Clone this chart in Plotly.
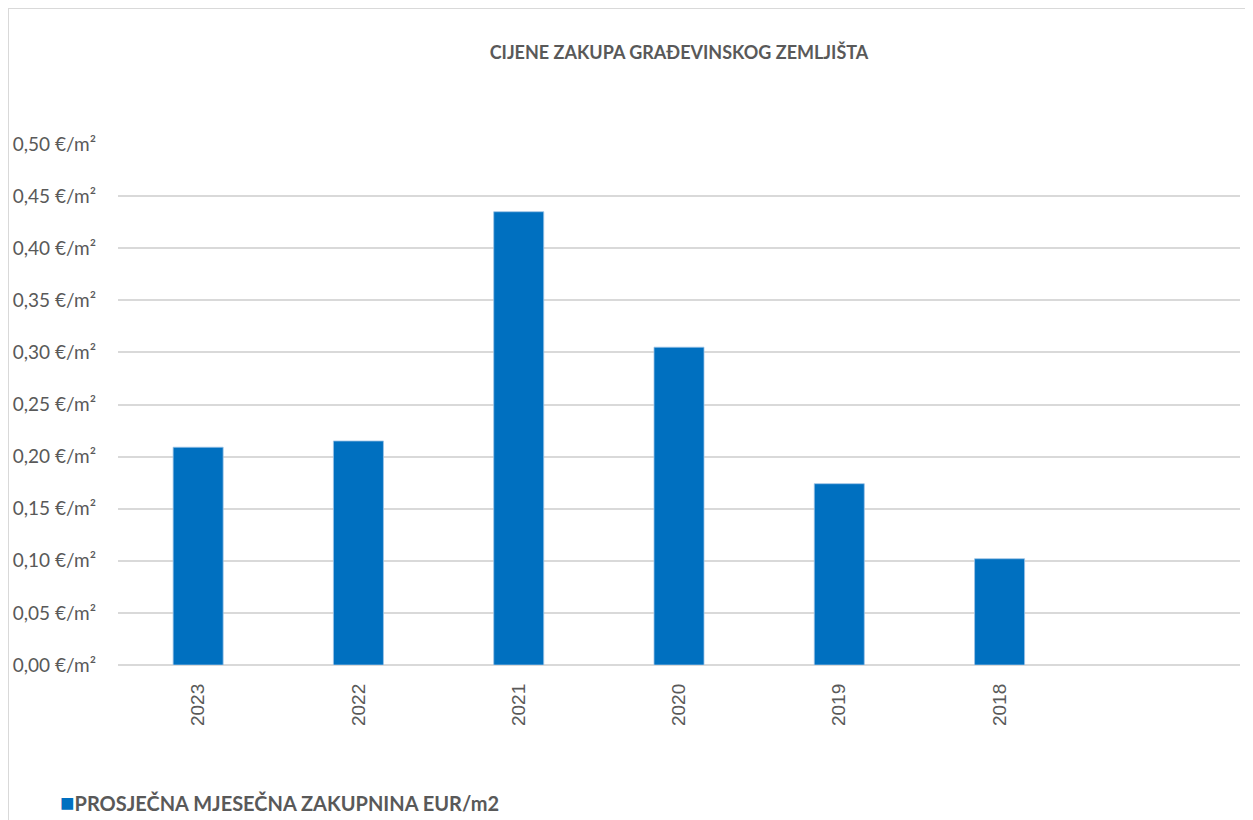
import plotly.graph_objects as go

categories = ["2023", "2022", "2021", "2020", "2019", "2018"]
values = [0.209, 0.215, 0.435, 0.305, 0.174, 0.102]
series_name = "PROSJEČNA MJESEČNA ZAKUPNINA EUR/m2"
title_text = "CIJENE ZAKUPA GRAĐEVINSKOG ZEMLJIŠTA"
tick_vals = [0.0, 0.05, 0.10, 0.15, 0.20, 0.25, 0.30, 0.35, 0.40, 0.45, 0.50]
tick_text = [f"{v:.2f}".replace(".", ",") + " €/m²" for v in tick_vals]

grey = "#595959"
grid = "#D9D9D9"
bar_color = "#0070C0"
font_main = "Lato, Open Sans, sans-serif"

# page body has an ~8px margin; figure sized so plot area lands where the reference has it
W, H = 1245, 812
L, T = 110, 136
PW, PH = 1122, 521
R = W - L - PW
B = H - T - PH

fig = go.Figure()
fig.add_trace(go.Bar(
    x=categories, y=values, name=series_name,
    marker=dict(color=bar_color, line=dict(color="#9DC3E6", width=0.8)),
    showlegend=False,
))

fig.update_layout(
    width=W, height=H,
    margin=dict(l=L, r=R, t=T, b=B, autoexpand=False),
    paper_bgcolor="white", plot_bgcolor="white",
    bargap=0.688,
    title=dict(text="<b>" + title_text + "</b>", x=0.5, xref="paper", xanchor="center",
               y=1 - 45 / H, yanchor="middle",
               font=dict(family=font_main, size=18, color=grey)),
    xaxis=dict(type="category", range=[-0.5, 6.5], tickangle=-90, automargin=False,
               showgrid=False, showline=False, zeroline=False, ticks="",
               ticklabelstandoff=14,
               tickfont=dict(family="Liberation Sans, Arial, sans-serif", size=19, color=grey)),
    yaxis=dict(range=[0, 0.5], tickvals=tick_vals, ticktext=tick_text, automargin=False,
               showgrid=True, gridcolor=grid, gridwidth=1.5,
               zeroline=True, zerolinecolor=grid, zerolinewidth=1.5,
               ticks="", ticklabelstandoff=21, showline=False,
               tickfont=dict(family=font_main, size=19, color=grey)),
    showlegend=False,
)
# legend (drawn as text key)
fig.add_annotation(
    xref="paper", yref="paper", x=(50 - L) / PW, y=(T + PH - 793) / PH,
    xanchor="left", yanchor="middle", showarrow=False,
    text=f"<span style='color:{bar_color};font-size:24px'>■</span><b>{series_name}</b>",
    font=dict(family=font_main, size=20, color=grey),
)
# the chart frame (top and left edges visible in the reference)
fig.add_shape(type="line", xref="paper", yref="paper",
              x0=(0 - L) / PW, x1=(1239 - L) / PW, y0=(T + PH) / PH, y1=(T + PH) / PH,
              line=dict(color=grid, width=2))
fig.add_shape(type="line", xref="paper", yref="paper",
              x0=(0 - L) / PW, x1=(0 - L) / PW, y0=(T + PH) / PH, y1=-B / PH,
              line=dict(color=grid, width=2))

fig.write_html("out.html")
